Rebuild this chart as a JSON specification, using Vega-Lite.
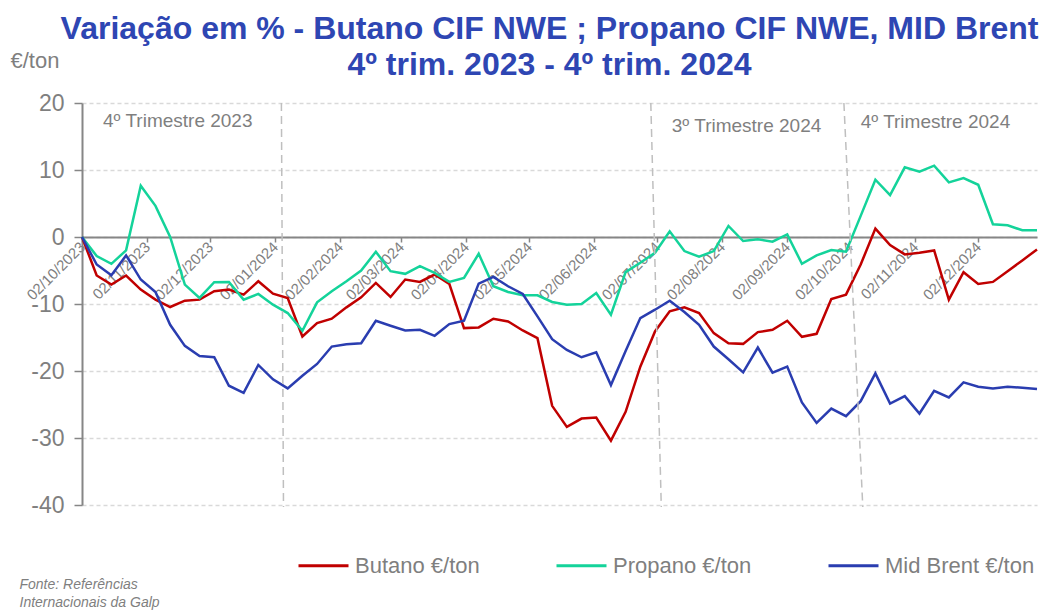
{
  "$schema": "https://vega.github.io/schema/vega-lite/v6.json",
  "width": 955,
  "height": 402,
  "autosize": {"type": "none"},
  "padding": {"left": 82, "top": 103, "right": 16, "bottom": 105},
  "background": "white",
  "config": {"view": {"stroke": null}, "font": "Liberation Sans"},
  "title": {
    "text": ["Variação em % - Butano CIF NWE ; Propano CIF NWE, MID Brent", "4º trim. 2023 - 4º trim. 2024"],
    "font": "Liberation Sans",
    "fontSize": 32,
    "fontWeight": "bold",
    "color": "#2E46B3",
    "lineHeight": 36,
    "anchor": "middle",
    "frame": "group",
    "dx": -10,
    "dy": 63,
    "offset": 30
  },
  "datasets": {
    "series": [
      {"d": "2023-10-02", "Butano €/ton": 0, "Propano €/ton": 0, "Mid Brent €/ton": 0},
      {"d": "2023-10-09", "Butano €/ton": -5.75, "Propano €/ton": -2.85, "Mid Brent €/ton": -4.1},
      {"d": "2023-10-16", "Butano €/ton": -7.1, "Propano €/ton": -4.0, "Mid Brent €/ton": -5.7},
      {"d": "2023-10-23", "Butano €/ton": -5.75, "Propano €/ton": -2.0, "Mid Brent €/ton": -2.75},
      {"d": "2023-10-30", "Butano €/ton": -7.85, "Propano €/ton": 7.65, "Mid Brent €/ton": -6.35},
      {"d": "2023-11-06", "Butano €/ton": -9.35, "Propano €/ton": 4.65, "Mid Brent €/ton": -8.2},
      {"d": "2023-11-13", "Butano €/ton": -10.45, "Propano €/ton": 0, "Mid Brent €/ton": -13.1},
      {"d": "2023-11-20", "Butano €/ton": -9.5, "Propano €/ton": -7.1, "Mid Brent €/ton": -16.25},
      {"d": "2023-11-27", "Butano €/ton": -9.35, "Propano €/ton": -9.1, "Mid Brent €/ton": -17.75},
      {"d": "2023-12-04", "Butano €/ton": -8.1, "Propano €/ton": -6.75, "Mid Brent €/ton": -17.95},
      {"d": "2023-12-11", "Butano €/ton": -7.85, "Propano €/ton": -6.7, "Mid Brent €/ton": -22.2},
      {"d": "2023-12-18", "Butano €/ton": -8.6, "Propano €/ton": -9.35, "Mid Brent €/ton": -23.25},
      {"d": "2023-12-25", "Butano €/ton": -6.6, "Propano €/ton": -8.5, "Mid Brent €/ton": -19.1},
      {"d": "2024-01-01", "Butano €/ton": -8.45, "Propano €/ton": -10.1, "Mid Brent €/ton": -21.25},
      {"d": "2024-01-08", "Butano €/ton": -9.1, "Propano €/ton": -11.35, "Mid Brent €/ton": -22.6},
      {"d": "2024-01-15", "Butano €/ton": -14.85, "Propano €/ton": -14.0, "Mid Brent €/ton": -20.7},
      {"d": "2024-01-22", "Butano €/ton": -12.85, "Propano €/ton": -9.75, "Mid Brent €/ton": -18.95},
      {"d": "2024-01-29", "Butano €/ton": -12.2, "Propano €/ton": -8.1, "Mid Brent €/ton": -16.35},
      {"d": "2024-02-05", "Butano €/ton": -10.5, "Propano €/ton": -6.6, "Mid Brent €/ton": -16.0},
      {"d": "2024-02-12", "Butano €/ton": -9.0, "Propano €/ton": -5.0, "Mid Brent €/ton": -15.85},
      {"d": "2024-02-19", "Butano €/ton": -6.85, "Propano €/ton": -2.2, "Mid Brent €/ton": -12.5},
      {"d": "2024-02-26", "Butano €/ton": -8.95, "Propano €/ton": -5.1, "Mid Brent €/ton": -13.25},
      {"d": "2024-03-04", "Butano €/ton": -6.35, "Propano €/ton": -5.5, "Mid Brent €/ton": -13.95},
      {"d": "2024-03-11", "Butano €/ton": -6.7, "Propano €/ton": -4.35, "Mid Brent €/ton": -13.85},
      {"d": "2024-03-18", "Butano €/ton": -5.6, "Propano €/ton": -5.35, "Mid Brent €/ton": -14.75},
      {"d": "2024-03-25", "Butano €/ton": -7.0, "Propano €/ton": -6.7, "Mid Brent €/ton": -13.0},
      {"d": "2024-04-01", "Butano €/ton": -13.6, "Propano €/ton": -6.1, "Mid Brent €/ton": -12.5},
      {"d": "2024-04-08", "Butano €/ton": -13.5, "Propano €/ton": -2.5, "Mid Brent €/ton": -6.95},
      {"d": "2024-04-15", "Butano €/ton": -12.2, "Propano €/ton": -7.35, "Mid Brent €/ton": -5.95},
      {"d": "2024-04-22", "Butano €/ton": -12.6, "Propano €/ton": -8.2, "Mid Brent €/ton": -7.35},
      {"d": "2024-04-29", "Butano €/ton": -13.95, "Propano €/ton": -8.7, "Mid Brent €/ton": -8.5},
      {"d": "2024-05-06", "Butano €/ton": -15.1, "Propano €/ton": -8.7, "Mid Brent €/ton": -11.85},
      {"d": "2024-05-13", "Butano €/ton": -25.2, "Propano €/ton": -9.7, "Mid Brent €/ton": -15.25},
      {"d": "2024-05-20", "Butano €/ton": -28.35, "Propano €/ton": -10.1, "Mid Brent €/ton": -16.85},
      {"d": "2024-05-27", "Butano €/ton": -27.1, "Propano €/ton": -10.0, "Mid Brent €/ton": -17.95},
      {"d": "2024-06-03", "Butano €/ton": -26.95, "Propano €/ton": -8.35, "Mid Brent €/ton": -17.2},
      {"d": "2024-06-10", "Butano €/ton": -30.4, "Propano €/ton": -11.6, "Mid Brent €/ton": -22.1},
      {"d": "2024-06-17", "Butano €/ton": -26.1, "Propano €/ton": -5.25, "Mid Brent €/ton": -17.0},
      {"d": "2024-06-24", "Butano €/ton": -19.35, "Propano €/ton": -3.85, "Mid Brent €/ton": -12.1},
      {"d": "2024-07-01", "Butano €/ton": -14.1, "Propano €/ton": -2.35, "Mid Brent €/ton": -10.85},
      {"d": "2024-07-08", "Butano €/ton": -11.1, "Propano €/ton": 0.85, "Mid Brent €/ton": -9.5},
      {"d": "2024-07-15", "Butano €/ton": -10.5, "Propano €/ton": -2.1, "Mid Brent €/ton": -11.2},
      {"d": "2024-07-22", "Butano €/ton": -11.35, "Propano €/ton": -2.95, "Mid Brent €/ton": -13.1},
      {"d": "2024-07-29", "Butano €/ton": -14.35, "Propano €/ton": -2.1, "Mid Brent €/ton": -16.35},
      {"d": "2024-08-05", "Butano €/ton": -15.85, "Propano €/ton": 1.65, "Mid Brent €/ton": -18.25},
      {"d": "2024-08-12", "Butano €/ton": -15.95, "Propano €/ton": -0.6, "Mid Brent €/ton": -20.2},
      {"d": "2024-08-19", "Butano €/ton": -14.2, "Propano €/ton": -0.35, "Mid Brent €/ton": -16.5},
      {"d": "2024-08-26", "Butano €/ton": -13.85, "Propano €/ton": -0.7, "Mid Brent €/ton": -20.25},
      {"d": "2024-09-02", "Butano €/ton": -12.5, "Propano €/ton": 0.4, "Mid Brent €/ton": -19.35},
      {"d": "2024-09-09", "Butano €/ton": -14.9, "Propano €/ton": -4.0, "Mid Brent €/ton": -24.7},
      {"d": "2024-09-16", "Butano €/ton": -14.45, "Propano €/ton": -2.75, "Mid Brent €/ton": -27.75},
      {"d": "2024-09-23", "Butano €/ton": -9.25, "Propano €/ton": -1.95, "Mid Brent €/ton": -25.6},
      {"d": "2024-09-30", "Butano €/ton": -8.6, "Propano €/ton": -2.2, "Mid Brent €/ton": -26.75},
      {"d": "2024-10-07", "Butano €/ton": -4.1, "Propano €/ton": 3.15, "Mid Brent €/ton": -24.5},
      {"d": "2024-10-14", "Butano €/ton": 1.25, "Propano €/ton": 8.55, "Mid Brent €/ton": -20.35},
      {"d": "2024-10-21", "Butano €/ton": -1.2, "Propano €/ton": 6.25, "Mid Brent €/ton": -24.85},
      {"d": "2024-10-28", "Butano €/ton": -2.6, "Propano €/ton": 10.4, "Mid Brent €/ton": -23.75},
      {"d": "2024-11-04", "Butano €/ton": -2.35, "Propano €/ton": 9.75, "Mid Brent €/ton": -26.35},
      {"d": "2024-11-11", "Butano €/ton": -2.0, "Propano €/ton": 10.65, "Mid Brent €/ton": -22.95},
      {"d": "2024-11-18", "Butano €/ton": -9.35, "Propano €/ton": 8.15, "Mid Brent €/ton": -23.95},
      {"d": "2024-11-25", "Butano €/ton": -5.25, "Propano €/ton": 8.8, "Mid Brent €/ton": -21.7},
      {"d": "2024-12-02", "Butano €/ton": -7.0, "Propano €/ton": 7.8, "Mid Brent €/ton": -22.35},
      {"d": "2024-12-09", "Butano €/ton": -6.7, "Propano €/ton": 1.9, "Mid Brent €/ton": -22.6},
      {"d": "2024-12-16", "Butano €/ton": -5.1, "Propano €/ton": 1.75, "Mid Brent €/ton": -22.35},
      {"d": "2024-12-23", "Butano €/ton": -3.5, "Propano €/ton": 1.0, "Mid Brent €/ton": -22.5},
      {"d": "2024-12-30", "Butano €/ton": -1.85, "Propano €/ton": 1.0, "Mid Brent €/ton": -22.7}
    ],
    "dividers": [
      {"top": "2024-01-05", "bottom": "2024-01-06", "y1": 20, "y2": -40.3},
      {"top": "2024-06-29", "bottom": "2024-07-04", "y1": 20, "y2": -40.3},
      {"top": "2024-09-29", "bottom": "2024-10-08", "y1": 20, "y2": -40.3}
    ],
    "quarters": [
      {"d": "2023-10-12", "v": 17.25, "t": "4º Trimestre 2023"},
      {"d": "2024-07-09", "v": 16.6, "t": "3º Trimestre 2024"},
      {"d": "2024-10-07", "v": 17.2, "t": "4º Trimestre 2024"}
    ]
  },
  "layer": [
    {
      "data": {"name": "series"},
      "transform": [
        {"fold": ["Butano €/ton", "Propano €/ton", "Mid Brent €/ton"], "as": ["serie", "valor"]}
      ],
      "mark": {"type": "line", "strokeWidth": 2.5, "interpolate": "linear"},
      "encoding": {
        "x": {
          "field": "d",
          "type": "temporal",
          "scale": {
            "type": "utc",
            "domain": [
              {"year": 2023, "month": 10, "date": 2, "utc": true},
              {"year": 2024, "month": 12, "date": 30, "utc": true}
            ]
          },
          "axis": {
            "values": [
              {"year": 2023, "month": 10, "date": 2, "utc": true},
              {"year": 2023, "month": 11, "date": 2, "utc": true},
              {"year": 2023, "month": 12, "date": 2, "utc": true},
              {"year": 2024, "month": 1, "date": 2, "utc": true},
              {"year": 2024, "month": 2, "date": 2, "utc": true},
              {"year": 2024, "month": 3, "date": 2, "utc": true},
              {"year": 2024, "month": 4, "date": 2, "utc": true},
              {"year": 2024, "month": 5, "date": 2, "utc": true},
              {"year": 2024, "month": 6, "date": 2, "utc": true},
              {"year": 2024, "month": 7, "date": 2, "utc": true},
              {"year": 2024, "month": 8, "date": 2, "utc": true},
              {"year": 2024, "month": 9, "date": 2, "utc": true},
              {"year": 2024, "month": 10, "date": 2, "utc": true},
              {"year": 2024, "month": 11, "date": 2, "utc": true},
              {"year": 2024, "month": 12, "date": 2, "utc": true}
            ],
            "labelExpr": "utcFormat(datum.value, '%d/%m/%Y')",
            "labelAngle": -45,
            "labelAlign": "right",
            "labelBaseline": "middle",
            "labelFontSize": 15,
            "labelColor": "#7F7F7F",
            "labelPadding": 2,
            "labelOverlap": false,
            "labelFlush": false,
            "labelBound": false,
            "tickSize": 5,
            "tickColor": "#868686",
            "tickWidth": 1.5,
            "domainColor": "#868686",
            "domainWidth": 2,
            "grid": false,
            "offset": -268,
            "title": ["Fonte: Referências", "Internacionais da Galp"],
            "titleX": -63,
            "titleY": 351,
            "titleAlign": "left",
            "titleBaseline": "alphabetic",
            "titleAnchor": "start",
            "titleFontStyle": "italic",
            "titleFontWeight": "normal",
            "titleFontSize": 14,
            "titleColor": "#7F7F7F",
            "titleLineHeight": 18
          }
        },
        "y": {
          "field": "valor",
          "type": "quantitative",
          "scale": {"domain": [-40, 20], "nice": false, "zero": false},
          "axis": {
            "values": [-40, -30, -20, -10, 0, 10, 20],
            "labelExpr": "'' + datum.value",
            "grid": true,
            "gridDash": [4, 3],
            "gridColor": "#D9D9D9",
            "gridWidth": 1.5,
            "domainColor": "#868686",
            "domainWidth": 2,
            "tickColor": "#868686",
            "tickWidth": 1.5,
            "tickSize": 8,
            "labelFontSize": 23,
            "labelColor": "#7F7F7F",
            "labelPadding": 10,
            "title": "€/ton",
            "titleAngle": 0,
            "titleAlign": "left",
            "titleBaseline": "alphabetic",
            "titleX": -72,
            "titleY": -36,
            "titleFontSize": 22,
            "titleFontWeight": "normal",
            "titleColor": "#7F7F7F"
          }
        },
        "color": {
          "field": "serie",
          "type": "nominal",
          "sort": ["Butano €/ton", "Propano €/ton", "Mid Brent €/ton"],
          "scale": {
            "domain": ["Butano €/ton", "Propano €/ton", "Mid Brent €/ton"],
            "range": ["#C00000", "#14D39A", "#2A3DB0"]
          },
          "legend": {
            "title": null,
            "orient": "none",
            "legendX": 215,
            "legendY": 436,
            "direction": "horizontal",
            "symbolType": "stroke",
            "symbolSize": 2500,
            "symbolStrokeWidth": 3,
            "labelFontSize": 22,
            "labelColor": "#7F7F7F",
            "labelOffset": 5,
            "labelLimit": 400,
            "columnPadding": 70,
            "padding": 0
          }
        }
      }
    },
    {
      "data": {"name": "dividers"},
      "mark": {"type": "rule", "color": "#BFBFBF", "strokeWidth": 1.5, "strokeDash": [8, 5]},
      "encoding": {
        "x": {"field": "top", "type": "temporal"},
        "x2": {"field": "bottom"},
        "y": {"field": "y1", "type": "quantitative"},
        "y2": {"field": "y2"}
      }
    },
    {
      "data": {"name": "quarters"},
      "mark": {"type": "text", "align": "left", "baseline": "middle", "fontSize": 19, "color": "#7F7F7F"},
      "encoding": {
        "x": {"field": "d", "type": "temporal"},
        "y": {"field": "v", "type": "quantitative"},
        "text": {"field": "t"}
      }
    }
  ]
}
